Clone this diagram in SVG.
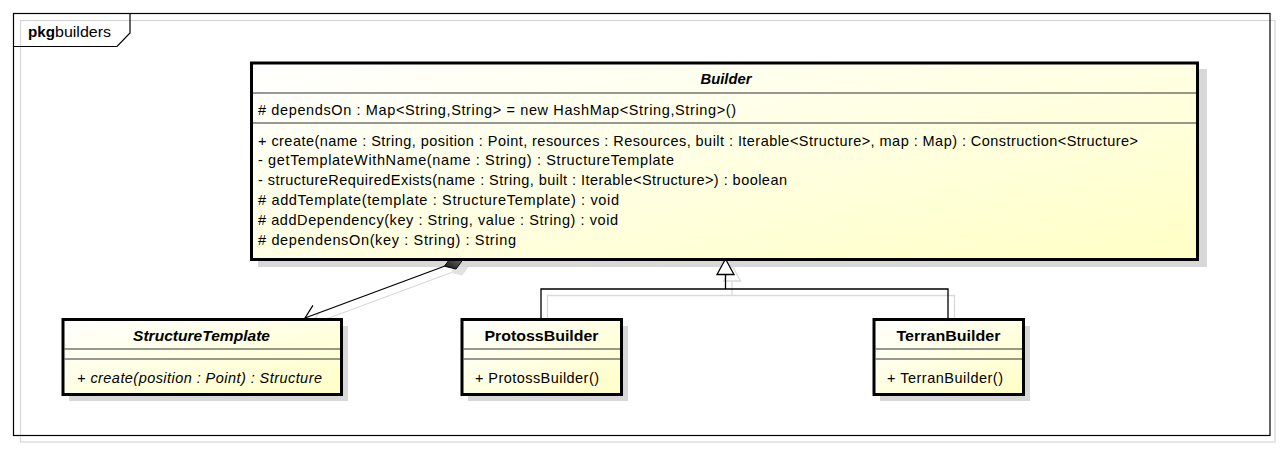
<svg xmlns="http://www.w3.org/2000/svg" width="1282" height="449" viewBox="0 0 1282 449">
<defs>
<linearGradient id="fill" x1="0" y1="0" x2="1" y2="1">
<stop offset="0" stop-color="#ffffff"/>
<stop offset="1" stop-color="#ffffc6"/>
</linearGradient>
<linearGradient id="dia" x1="0" y1="1" x2="1" y2="0">
<stop offset="0" stop-color="#111111"/>
<stop offset="1" stop-color="#777777"/>
</linearGradient>
<style>
text{font-family:"Liberation Sans",Arial,sans-serif;font-size:14.5px;fill:#000}
.t{font-weight:bold;text-anchor:middle;font-size:14px}
.ti{font-weight:bold;font-style:italic;text-anchor:middle;font-size:14px}
.it{font-style:italic}
.box{fill:url(#fill);stroke:#000;stroke-width:3}
.shadow{fill:#d8d8d8}
.div{stroke:#333;stroke-width:1.1}
.edge{fill:none;stroke:#000;stroke-width:1.3}
.eshadow{fill:none;stroke:#d9d9d9;stroke-width:1.3}
</style>
</defs>
<rect width="1282" height="449" fill="#fff"/>
<!-- package frame -->
<g id="frame">
<rect x="20.5" y="20.5" width="1254.5" height="421.5" fill="none" stroke="#d6d6d6" stroke-width="1.2"/>
<rect x="13.5" y="13.5" width="1256.5" height="422" fill="none" stroke="#000" stroke-width="1.2"/>
<path d="M13.5,46.5 H117 L130,33 V13.5" fill="none" stroke="#000" stroke-width="1.2"/>
<text y="37"><tspan x="28" font-weight="bold" textLength="27" lengthAdjust="spacingAndGlyphs">pkg</tspan><tspan x="55" textLength="56" lengthAdjust="spacingAndGlyphs">builders</tspan></text>
</g>
<!-- connector shadows -->
<g id="connector-shadows" transform="translate(6.5,6.5)">
<polyline class="eshadow" points="445,266 305,318"/>
<polygon points="462,259.7 451.4,257.3 445,266 455.6,268.5" fill="#e2e2e2" stroke="#e2e2e2"/>
<polyline class="eshadow" points="312.9,305.3 305,318 319.6,321.6"/>
<polygon class="eshadow" points="725.5,259 717,274.5 734,274.5"/>
<polyline class="eshadow" points="725.5,274.5 725.5,289"/>
<polyline class="eshadow" points="541,319 541,289 948,289 948,319"/>
</g>
<!-- node shadows -->
<g id="node-shadows">
<rect class="shadow" x="258" y="69" width="949" height="198"/>
<rect class="shadow" x="69" y="326" width="279" height="75"/>
<rect class="shadow" x="468" y="326" width="160" height="75"/>
<rect class="shadow" x="880" y="326" width="150" height="75"/>
</g>
<!-- connectors -->
<g id="connectors">
<polyline class="edge" points="445,266 305,318"/>
<polyline class="edge" points="312.9,305.3 305,318 319.6,321.6"/>
<polygon points="463,259.5 451.4,256.8 444.5,266.2 456,269" fill="url(#dia)" stroke="#000" stroke-width="1"/>
<polyline class="edge" points="541,319 541,289 948,289 948,319"/>
<polyline class="edge" points="725.5,274.5 725.5,289"/>
<polygon points="725.5,259 717,274.5 734,274.5" fill="#fff" stroke="#000" stroke-width="1.3"/>
</g>
<!-- Builder -->
<g id="Builder">
<rect class="box" x="251.5" y="63" width="946" height="196.5"/>
<line class="div" x1="253" y1="93" x2="1196" y2="93"/>
<line class="div" x1="253" y1="123" x2="1196" y2="123"/>
<text class="ti" x="726" y="84" textLength="51" lengthAdjust="spacingAndGlyphs">Builder</text>
<text x="258" y="115" textLength="478" lengthAdjust="spacing"># dependsOn : Map&lt;String,String&gt; = new HashMap&lt;String,String&gt;()</text>
<text x="258" y="145.5" textLength="880" lengthAdjust="spacing">+ create(name : String, position : Point, resources : Resources, built : Iterable&lt;Structure&gt;, map : Map) : Construction&lt;Structure&gt;</text>
<text x="258" y="165.4" textLength="416" lengthAdjust="spacing">- getTemplateWithName(name : String) : StructureTemplate</text>
<text x="258" y="185.3" textLength="529" lengthAdjust="spacing">- structureRequiredExists(name : String, built : Iterable&lt;Structure&gt;) : boolean</text>
<text x="258" y="205.2" textLength="361" lengthAdjust="spacing"># addTemplate(template : StructureTemplate) : void</text>
<text x="258" y="225.1" textLength="360" lengthAdjust="spacing"># addDependency(key : String, value : String) : void</text>
<text x="258" y="245" textLength="258" lengthAdjust="spacing"># dependensOn(key : String) : String</text>
</g>
<!-- StructureTemplate -->
<g id="StructureTemplate">
<rect class="box" x="63" y="319.5" width="278.5" height="75"/>
<line class="div" x1="64.5" y1="349" x2="340" y2="349"/>
<line class="div" x1="64.5" y1="359" x2="340" y2="359"/>
<text class="ti" x="201.5" y="341" textLength="137" lengthAdjust="spacingAndGlyphs">StructureTemplate</text>
<text class="it" x="77" y="382.5" textLength="245" lengthAdjust="spacing">+ create(position : Point) : Structure</text>
</g>
<!-- ProtossBuilder -->
<g id="ProtossBuilder">
<rect class="box" x="462" y="319.5" width="159.5" height="75"/>
<line class="div" x1="463.5" y1="349" x2="620" y2="349"/>
<line class="div" x1="463.5" y1="359" x2="620" y2="359"/>
<text class="t" x="541.5" y="341" textLength="114" lengthAdjust="spacingAndGlyphs">ProtossBuilder</text>
<text x="475" y="382.5" textLength="124" lengthAdjust="spacing">+ ProtossBuilder()</text>
</g>
<!-- TerranBuilder -->
<g id="TerranBuilder">
<rect class="box" x="874" y="319.5" width="149.5" height="75"/>
<line class="div" x1="875.5" y1="349" x2="1022" y2="349"/>
<line class="div" x1="875.5" y1="359" x2="1022" y2="359"/>
<text class="t" x="948.5" y="341" textLength="104" lengthAdjust="spacingAndGlyphs">TerranBuilder</text>
<text x="887" y="382.5" textLength="116" lengthAdjust="spacing">+ TerranBuilder()</text>
</g>
</svg>
